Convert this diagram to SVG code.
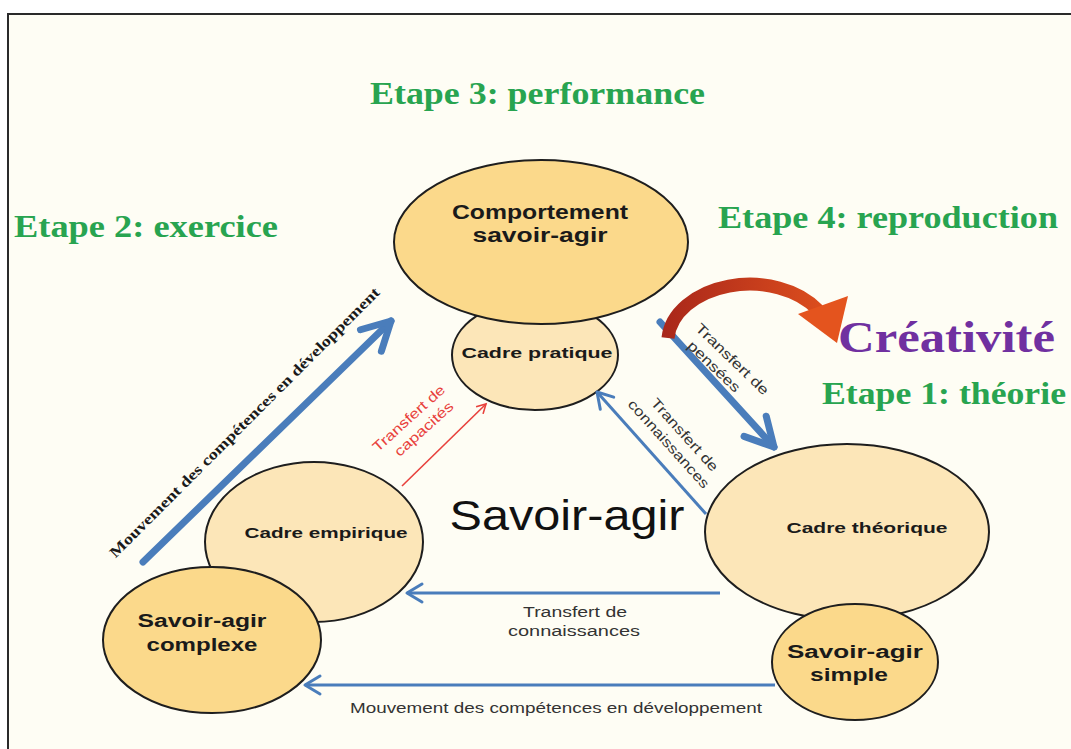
<svg xmlns="http://www.w3.org/2000/svg" width="1071" height="749" viewBox="0 0 1071 749">
<defs>
<style>
.frame{fill:#fefdf4;stroke:#2a2a2a;stroke-width:2}
.dark{fill:#fbd98b;stroke:#1e1e1e;stroke-width:2}
.light{fill:#fce6b8;stroke:#1e1e1e;stroke-width:2}
.step{font-family:"Liberation Serif","DejaVu Serif",serif;font-weight:bold;fill:#28a450}
.crea{font-family:"Liberation Serif","DejaVu Serif",serif;font-weight:bold;fill:#7030a0}
.nb{font-family:"Liberation Sans",Arial,sans-serif;font-weight:bold;fill:#1a1a1a}
.lab{font-family:"Liberation Sans",Arial,sans-serif;fill:#333333}
.big{font-family:"Liberation Sans",Arial,sans-serif;fill:#111111}
.red{font-family:"Liberation Sans",Arial,sans-serif;fill:#e8413c}
.serifb{font-family:"Liberation Serif","Times New Roman",serif;font-weight:bold;fill:#1a1a1a}
.thick{stroke:#4a7dbb;stroke-width:7;fill:none;stroke-linecap:round}
.thin{stroke:#4a7dbb;stroke-width:3;fill:none}
.redl{stroke:#e8413c;stroke-width:1.6;fill:none}
</style>
<marker id="chevBig" viewBox="-34 -20 40 40" markerWidth="40" markerHeight="40" refX="0" refY="0" markerUnits="userSpaceOnUse" orient="auto" overflow="visible">
<path d="M-28,-15 L0,0 L-28,15" fill="none" stroke="#4a7dbb" stroke-width="7" stroke-linecap="round" stroke-linejoin="round"/>
</marker>
<marker id="chevThin" viewBox="-20 -12 24 24" markerWidth="24" markerHeight="24" refX="0" refY="0" markerUnits="userSpaceOnUse" orient="auto" overflow="visible">
<path d="M-15,-9 L0,0 L-15,9" fill="none" stroke="#4a7dbb" stroke-width="3" stroke-linecap="round" stroke-linejoin="round"/>
</marker>
<marker id="chevRed" viewBox="-12 -8 16 16" markerWidth="16" markerHeight="16" refX="0" refY="0" markerUnits="userSpaceOnUse" orient="auto" overflow="visible">
<path d="M-9,-5 L0,0 L-9,5" fill="none" stroke="#e8413c" stroke-width="1.6"/>
</marker>
<linearGradient id="curveGrad" x1="660" y1="0" x2="850" y2="0" gradientUnits="userSpaceOnUse">
<stop offset="0" stop-color="#a8261a"/>
<stop offset="1" stop-color="#e4541e"/>
</linearGradient>
</defs>
<rect x="0" y="0" width="1071" height="749" fill="#ffffff"/>
<rect class="frame" x="8" y="14" width="1080" height="760"/>

<g id="steps">
<text class="step" x="370" y="104" font-size="31" textLength="335" lengthAdjust="spacingAndGlyphs">Etape 3: performance</text>
<text class="step" x="14" y="237" font-size="31" textLength="264" lengthAdjust="spacingAndGlyphs">Etape 2: exercice</text>
<text class="step" x="718" y="228" font-size="31" textLength="340" lengthAdjust="spacingAndGlyphs">Etape 4: reproduction</text>
<text class="step" x="822" y="404" font-size="31" textLength="244" lengthAdjust="spacingAndGlyphs">Etape 1: théorie</text>
<text class="crea" x="838" y="352" font-size="44" textLength="217" lengthAdjust="spacingAndGlyphs">Créativité</text>
</g>

<g id="cadre-pratique">
<ellipse class="light" cx="535" cy="355" rx="83" ry="55"/>
<text class="nb" x="537" y="358" font-size="15.5" text-anchor="middle" textLength="151" lengthAdjust="spacingAndGlyphs">Cadre pratique</text>
</g>
<g id="comportement">
<ellipse class="dark" cx="541" cy="242" rx="147" ry="82"/>
<text class="nb" x="540" y="219" font-size="20" text-anchor="middle" textLength="176" lengthAdjust="spacingAndGlyphs">Comportement</text>
<text class="nb" x="540" y="242" font-size="20" text-anchor="middle" textLength="135" lengthAdjust="spacingAndGlyphs">savoir-agir</text>
</g>

<g id="cadre-empirique">
<ellipse class="light" cx="314" cy="542" rx="109" ry="80"/>
<text class="nb" x="326" y="538" font-size="15.5" text-anchor="middle" textLength="163" lengthAdjust="spacingAndGlyphs">Cadre empirique</text>
</g>
<g id="savoir-agir-complexe">
<ellipse class="dark" cx="212" cy="640" rx="109" ry="73"/>
<text class="nb" x="202" y="627" font-size="18" text-anchor="middle" textLength="129" lengthAdjust="spacingAndGlyphs">Savoir-agir</text>
<text class="nb" x="202" y="651" font-size="18" text-anchor="middle" textLength="111" lengthAdjust="spacingAndGlyphs">complexe</text>
</g>

<g id="cadre-theorique">
<ellipse class="light" cx="847" cy="532" rx="142" ry="88"/>
<text class="nb" x="867" y="533" font-size="15.5" text-anchor="middle" textLength="161" lengthAdjust="spacingAndGlyphs">Cadre théorique</text>
</g>
<g id="savoir-agir-simple">
<ellipse class="dark" cx="855" cy="662" rx="83" ry="58"/>
<text class="nb" x="855" y="658" font-size="18" text-anchor="middle" textLength="136" lengthAdjust="spacingAndGlyphs">Savoir-agir</text>
<text class="nb" x="849" y="681" font-size="18" text-anchor="middle" textLength="78" lengthAdjust="spacingAndGlyphs">simple</text>
</g>

<g id="center-label">
<text class="big" x="567" y="530" font-size="42" text-anchor="middle" textLength="235" lengthAdjust="spacingAndGlyphs">Savoir-agir</text>
</g>

<g id="connectors">
<line class="thick" x1="143" y1="562" x2="391" y2="321" marker-end="url(#chevBig)"/>
<line class="thick" x1="660" y1="322" x2="774" y2="447" marker-end="url(#chevBig)"/>
<line class="thin" x1="706" y1="514" x2="597" y2="392" marker-end="url(#chevThin)"/>
<line class="redl" x1="402" y1="486" x2="486" y2="404" marker-end="url(#chevRed)"/>
<line class="thin" x1="720" y1="593" x2="407" y2="593" marker-end="url(#chevThin)"/>
<line class="thin" x1="775" y1="685" x2="305" y2="685" marker-end="url(#chevThin)"/>
<path d="M668,338 A82 58 0 0 1 818,310" fill="none" stroke="url(#curveGrad)" stroke-width="13"/>
<polygon points="798,314 848,296 837,343" fill="#e4541e"/>
</g>

<g id="connector-labels">
<text class="serifb" transform="translate(248,426) rotate(-45)" x="0" y="0" font-size="15" text-anchor="middle" textLength="375" lengthAdjust="spacingAndGlyphs">Mouvement des compétences en développement</text>
<g transform="translate(414,424) rotate(-42)">
<text class="red" x="0" y="-3" font-size="14" text-anchor="middle" textLength="92" lengthAdjust="spacingAndGlyphs">Transfert de</text>
<text class="red" x="4" y="15" font-size="14" text-anchor="middle" textLength="74" lengthAdjust="spacingAndGlyphs">capacités</text>
</g>
<g transform="translate(724,362) rotate(44)">
<text class="lab" x="4" y="-3" font-size="14" text-anchor="middle" textLength="96" lengthAdjust="spacingAndGlyphs">Transfert de</text>
<text class="lab" x="-4" y="15" font-size="14" text-anchor="middle" textLength="67" lengthAdjust="spacingAndGlyphs">pensées</text>
</g>
<g transform="translate(679,440) rotate(48)">
<text class="lab" x="0" y="-3" font-size="14" text-anchor="middle" textLength="93" lengthAdjust="spacingAndGlyphs">Transfert de</text>
<text class="lab" x="-4" y="15" font-size="14" text-anchor="middle" textLength="114" lengthAdjust="spacingAndGlyphs">connaissances</text>
</g>
<text class="lab" x="575" y="617" font-size="14" text-anchor="middle" textLength="104" lengthAdjust="spacingAndGlyphs">Transfert de</text>
<text class="lab" x="574" y="636" font-size="14" text-anchor="middle" textLength="132" lengthAdjust="spacingAndGlyphs">connaissances</text>
<text class="lab" x="556" y="713" font-size="14" text-anchor="middle" textLength="412" lengthAdjust="spacingAndGlyphs">Mouvement des compétences en développement</text>
</g>
</svg>
